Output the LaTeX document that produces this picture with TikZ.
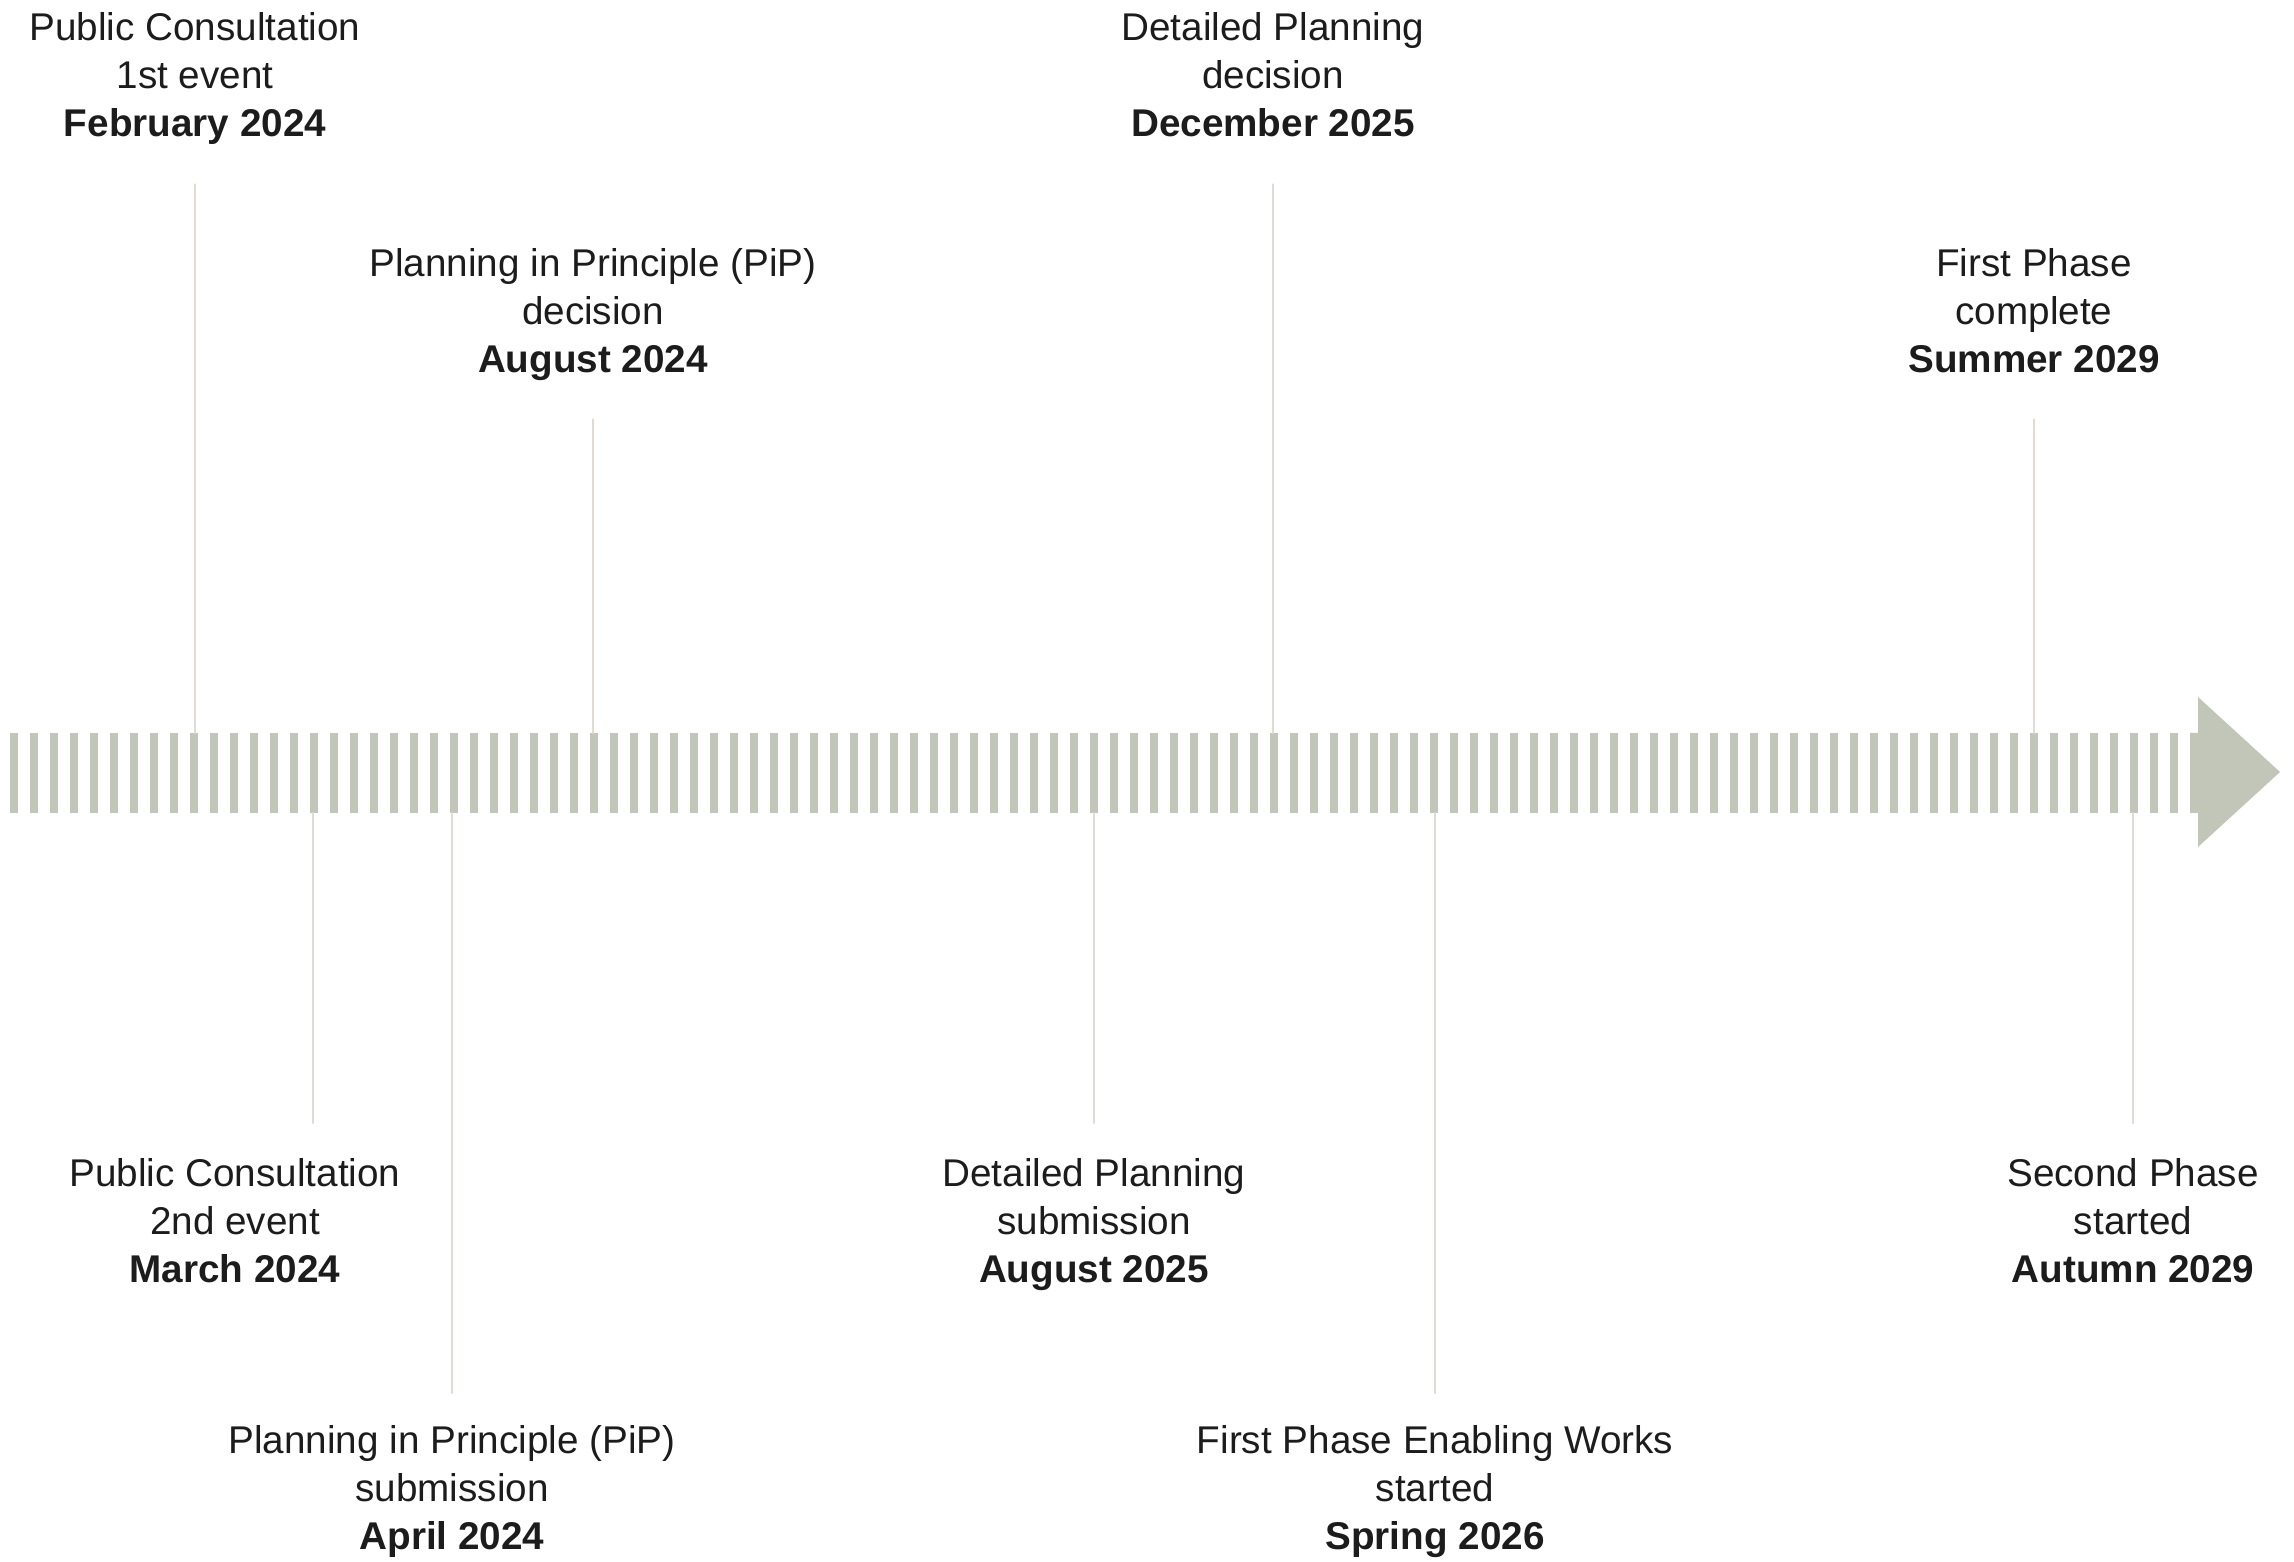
\documentclass[tikz,border=0pt]{standalone}
\usepackage{fontspec}
\setmainfont{Liberation Sans}
\definecolor{stripe}{RGB}{193,198,185}
\definecolor{tickline}{RGB}{226,218,212}
\definecolor{ink}{RGB}{28,28,28}
\newcommand{\milestone}[3]{\strut #1\\#2\\\textbf{#3}\strut}

\begin{document}
\begin{tikzpicture}[line cap=round,line join=round,x=1.0cm,y=1.0cm,
    mstone/.style={align=center,inner sep=0pt,anchor=north,text=ink,font=\fontsize{11}{13.66}\selectfont},
    tick/.style={draw=tickline,line width=0.6pt}]
            \useasboundingbox (0.,0.) rectangle (22.94,15.61);

            % timeline bar
            \coordinate (bartop) at (0.,8.28);
            \coordinate (barbot) at (0.,7.48);
            \foreach \i in {0,...,108}
                \fill [stripe] (0.10+0.2*\i,7.48) rectangle ++(0.08,0.80);
            \fill [stripe] (21.90,7.48) -- (21.98,7.48) -- (21.98,7.14) -- (22.80,7.89) -- (21.98,8.64) -- (21.98,8.28) -- (21.90,8.28) -- cycle;

            % above the bar
            \node [mstone] (feb) at (1.95,15.55) {\milestone{Public Consultation}{1st event}{February 2024}};
            \draw [tick,shorten <=0.33cm] (feb.south) -- (feb.south |- bartop);
            \node [mstone] (pipdec) at (5.93,13.19) {\milestone{Planning in Principle (PiP)}{decision}{August 2024}};
            \draw [tick,shorten <=0.32cm] (pipdec.south) -- (pipdec.south |- bartop);
            \node [mstone] (dec) at (12.73,15.55) {\milestone{Detailed Planning}{decision}{December 2025}};
            \draw [tick,shorten <=0.33cm] (dec.south) -- (dec.south |- bartop);
            \node [mstone] (summer) at (20.34,13.19) {\milestone{First Phase}{complete}{Summer 2029}};
            \draw [tick,shorten <=0.32cm] (summer.south) -- (summer.south |- bartop);

            % below the bar
            \node [mstone] (march) at (2.35,4.09) {\milestone{Public Consultation}{2nd event}{March 2024}};
            \coordinate (marchend) at (3.13,4.38);
            \draw [tick] (marchend |- barbot) -- (marchend);
            \node [mstone] (pipsub) at (4.52,1.42) {\milestone{Planning in Principle (PiP)}{submission}{April 2024}};
            \draw [tick,shorten >=0.26cm] (pipsub.north |- barbot) -- (pipsub.north);
            \node [mstone] (aug) at (10.94,4.09) {\milestone{Detailed Planning}{submission}{August 2025}};
            \draw [tick,shorten >=0.29cm] (aug.north |- barbot) -- (aug.north);
            \node [mstone] (spring) at (14.35,1.42) {\milestone{First Phase Enabling Works}{started}{Spring 2026}};
            \draw [tick,shorten >=0.26cm] (spring.north |- barbot) -- (spring.north);
            \node [mstone] (autumn) at (21.33,4.09) {\milestone{Second Phase}{started}{Autumn 2029}};
            \draw [tick,shorten >=0.29cm] (autumn.north |- barbot) -- (autumn.north);
\end{tikzpicture}
\end{document}
